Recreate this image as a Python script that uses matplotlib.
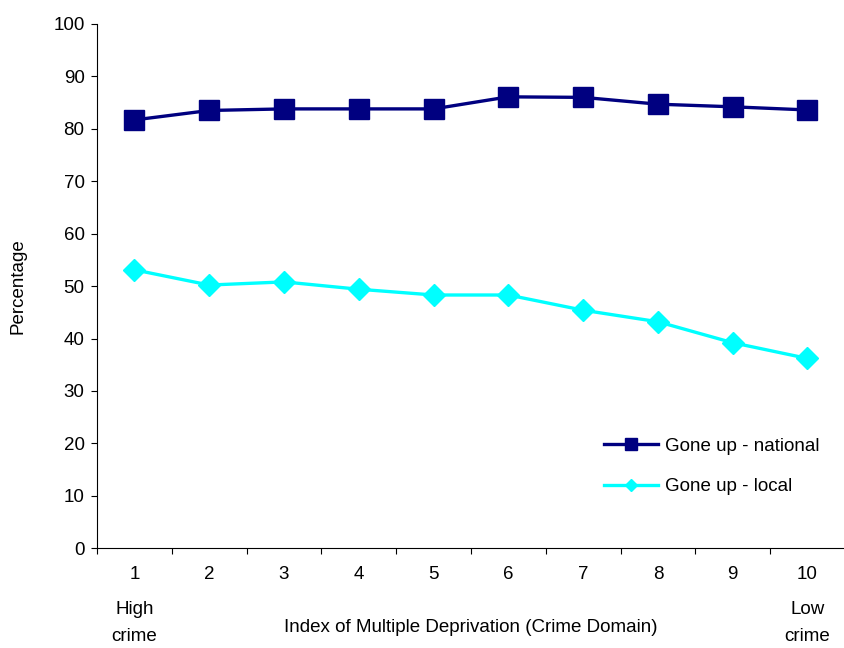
import matplotlib
matplotlib.use("Agg")
import matplotlib.pyplot as plt

plt.rcParams['font.family'] = ['Liberation Sans', 'DejaVu Sans']

# IMD crime domain deciles, 1 = high crime, 10 = low crime
deciles = [1, 2, 3, 4, 5, 6, 7, 8, 9, 10]
national = [81.7, 83.5, 83.8, 83.8, 83.8, 86.1, 86.0, 84.7, 84.2, 83.6]
local = [53.1, 50.2, 50.8, 49.4, 48.3, 48.3, 45.4, 43.2, 39.2, 36.2]
decile_labels = [str(d) for d in deciles]

fs = 13.5

fig = plt.figure(figsize=(8.44, 6.48), dpi=100)
ax = fig.add_axes([0.115, 0.154, 0.886, 0.809])

ax.plot(deciles, national, color='#000080', linewidth=2.4, marker='s',
        markersize=14, label='Gone up - national')
ax.plot(deciles, local, color='#00FFFF', linewidth=2.4, marker='D',
        markersize=11, label='Gone up - local')

ax.set_xlim(0.5, 10.5)
ax.set_ylim(0, 100)
ax.set_yticks(range(0, 101, 10))

# ticks sit between categories, labels in the middle
ax.set_xticks([d + 0.5 for d in [0] + deciles])
ax.set_xticklabels([])
ax.set_xticks(deciles, minor=True)
ax.set_xticklabels(decile_labels, minor=True)
ax.tick_params(axis='x', which='major', direction='out', length=4, width=0.8)
ax.tick_params(axis='x', which='minor', length=0, pad=13, labelsize=fs)
ax.tick_params(axis='y', direction='out', length=4, width=0.8, labelsize=fs, pad=5)

for side in ['top', 'right']:
    ax.spines[side].set_visible(False)

for x, word in [(1, 'High'), (10, 'Low')]:
    ax.annotate(word, xy=(x, 0), xycoords=('data', 'axes fraction'),
                xytext=(0, -44), textcoords='offset points', ha='center', va='center', fontsize=fs)
    ax.annotate('crime', xy=(x, 0), xycoords=('data', 'axes fraction'),
                xytext=(0, -63.5), textcoords='offset points', ha='center', va='center', fontsize=fs)

ax.set_xlabel('Index of Multiple Deprivation (Crime Domain)', fontsize=fs, labelpad=26)
ax.set_ylabel('Percentage', fontsize=fs, labelpad=19)

ax.legend(loc='center left', bbox_to_anchor=(0.655, 0.156), frameon=False, fontsize=fs,
          handlelength=2.9, handletextpad=0.35, labelspacing=1.25, markerscale=0.6)

fig.savefig('out.png', dpi=100)
